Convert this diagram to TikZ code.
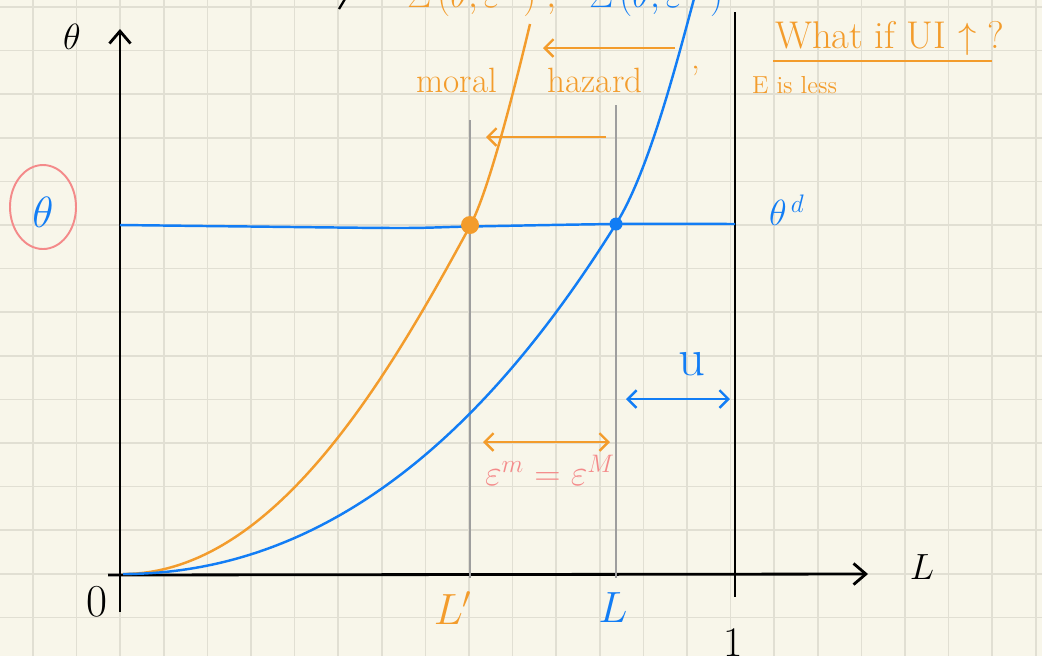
\documentclass[tikz,border=0pt]{standalone}
\usetikzlibrary{arrows.meta}

\definecolor{carta}{RGB}{248,246,234}
\definecolor{quadretto}{RGB}{225,223,211}
\definecolor{arancio}{RGB}{243,156,44}
\definecolor{azzurro}{RGB}{18,125,245}
\definecolor{rosa}{RGB}{244,138,138}
\definecolor{grigioguida}{RGB}{158,158,158}

\begin{document}
\begin{tikzpicture}[
  font=\normalsize,
  griglia/.style={draw=quadretto, line width=1pt},
  asse/.style={draw=black, line width=1.6pt},
  guida/.style={draw=grigioguida, line width=1.5pt},
  curva/.style={line width=1.4pt},
  punta/.style={-{Straight Barb[length=5pt, width=10pt]}},
  puntadoppia/.style={{Straight Barb[length=5pt, width=10pt]}-{Straight Barb[length=5pt, width=10pt]}},
  puntaasse/.style={-{Straight Barb[length=7pt, width=12pt]}},
  etichetta/.style={inner sep=1pt}
]

%--------------------------------------------------------------
% Foglio a quadretti
%--------------------------------------------------------------
\useasboundingbox (0.000,0.000) rectangle (20.840,-13.120);
\clip (0.000,0.000) rectangle (20.840,-13.120);
\fill[carta] (0.000,0.000) rectangle (20.840,-13.120);
\foreach \i in {0,...,23}
  \draw[griglia] ({0.660+0.872*\i},0.000) -- ({0.660+0.872*\i},-13.120);
\foreach \j in {0,...,14}
  \draw[griglia] (0.000,{-0.140-0.872*\j}) -- (20.840,{-0.140-0.872*\j});

%--------------------------------------------------------------
% Scritta in alto (tagliata dal bordo)
%--------------------------------------------------------------
\draw[draw=black, line width=1.3pt] (6.900,0.020) -- (6.780,-0.180);
\node[etichetta, anchor=base west, text=arancio, font=\fontsize{22}{26}\selectfont] (sigmam) at (8.100,-0.140) {$\Sigma\,(\theta,\varepsilon^{m})\;,$};
\node[etichetta, anchor=base west, text=azzurro, font=\fontsize{22}{26}\selectfont] (sigmaM) at (11.740,-0.140) {$\Sigma\,(\theta,\varepsilon^{M})$};

%--------------------------------------------------------------
% Assi
%--------------------------------------------------------------
\draw[asse, puntaasse] (2.400,-12.240) -- (2.400,-0.580);
\draw[asse, puntaasse] (2.160,-11.500) -- (17.360,-11.480);
\draw[asse] (14.700,-0.240) -- (14.700,-11.940);
\node[etichetta, font=\fontsize{22}{26}\selectfont] (thetaasse) at (1.440,-0.740) {$\theta$};
\node[etichetta, font=\fontsize{26}{30}\selectfont] (zero) at (1.940,-12.040) {0};
\node[etichetta, font=\fontsize{21}{25}\selectfont] (Lasse) at (18.440,-11.340) {$L$};
\node[etichetta, font=\fontsize{24}{28}\selectfont] (uno) at (14.660,-12.860) {1};

%--------------------------------------------------------------
% Guide verticali in L' e L
%--------------------------------------------------------------
\draw[guida] (9.400,-2.400) -- (9.400,-11.560);
\draw[guida] (12.320,-2.100) -- (12.320,-11.560);
\node[etichetta, text=arancio, font=\fontsize{24}{28}\selectfont] (Lprimo) at (9.060,-12.160) {$L'$};
\node[etichetta, text=azzurro, font=\fontsize{26}{30}\selectfont] (Lblu) at (12.260,-12.160) {$L$};

%--------------------------------------------------------------
% Livello theta^d
%--------------------------------------------------------------
\draw[curva, azzurro] plot[smooth] coordinates {(2.400,-4.500) (5.000,-4.530) (8.000,-4.560) (9.400,-4.530) (12.320,-4.480) (14.700,-4.480)};
\node[etichetta, anchor=west, text=azzurro, font=\fontsize{20}{24}\selectfont] (thetad) at (15.340,-4.200) {$\theta^{\,d}$};
\draw[draw=rosa, line width=1.1pt] (0.860,-4.140) ellipse[x radius=0.660, y radius=0.840];
\node[etichetta, text=azzurro, font=\fontsize{25}{30}\selectfont] (thetacerchio) at (0.860,-4.240) {$\theta$};

%--------------------------------------------------------------
% Curve Sigma(theta, eps^m) e Sigma(theta, eps^M)
%--------------------------------------------------------------
\draw[curva, arancio] (2.460,-11.480) .. controls (5.460,-11.480) and (7.730,-7.600) .. (9.400,-4.520)
  .. controls (9.780,-3.820) and (10.320,-1.650) .. (10.600,-0.480);
\draw[curva, azzurro] (2.460,-11.480) .. controls (7.060,-11.480) and (10.200,-7.870) .. (12.320,-4.480)
  .. controls (12.960,-3.460) and (13.510,-1.350) .. (13.900,0.100);
\fill[arancio] (9.400,-4.500) circle (0.180);
\fill[azzurro] (12.320,-4.480) circle (0.130);

%--------------------------------------------------------------
% Azzardo morale: spostamento a sinistra
%--------------------------------------------------------------
\coordinate (altoDx) at (13.500,-0.960);
\coordinate (altoSx) at (10.860,-0.960);
\coordinate (medioDx) at (12.120,-2.740);
\coordinate (medioSx) at (9.720,-2.740);
\draw[curva, arancio, punta] (altoDx) -- (altoSx);
\draw[curva, arancio, punta] (medioDx) -- (medioSx);
\node[etichetta, anchor=base, text=arancio, font=\fontsize{20}{24}\selectfont] (moral) at (9.140,-1.840) {moral};
\node[etichetta, anchor=base, text=arancio, font=\fontsize{20}{24}\selectfont] (hazard) at (11.900,-1.840) {hazard};
\node[etichetta, text=arancio, font=\fontsize{20}{24}\selectfont] (apice) at (13.920,-1.560) {'};

%--------------------------------------------------------------
% Domanda a margine
%--------------------------------------------------------------
\node[etichetta, anchor=base west, text=arancio, font=\fontsize{22}{26}\selectfont] (domanda) at (15.460,-0.960) {What if UI $\uparrow$ ?};
\coordinate (sottoSx) at (15.460,-1.220);
\coordinate (sottoDx) at (19.840,-1.220);
\draw[curva, arancio] (sottoSx) -- (sottoDx);
\node[etichetta, anchor=base west, text=arancio, font=\fontsize{14}{17}\selectfont] (meno) at (15.000,-1.860) {E is less};

%--------------------------------------------------------------
% Distanze: u ed eps^m = eps^M
%--------------------------------------------------------------
\coordinate (uSx) at (12.520,-7.980);
\coordinate (uDx) at (14.600,-7.980);
\draw[curva, azzurro, puntadoppia] (uSx) -- (uDx);
\node[etichetta, text=azzurro, font=\fontsize{30}{34}\selectfont] (u) at (13.840,-7.280) {u};
\coordinate (epsSx) at (9.660,-8.840);
\coordinate (epsDx) at (12.200,-8.840);
\draw[curva, arancio, puntadoppia] (epsSx) -- (epsDx);
\node[etichetta, text=rosa, font=\fontsize{20}{24}\selectfont] (eps) at (11.000,-9.400) {$\varepsilon^{m} = \varepsilon^{M}$};

\end{tikzpicture}
\end{document}
